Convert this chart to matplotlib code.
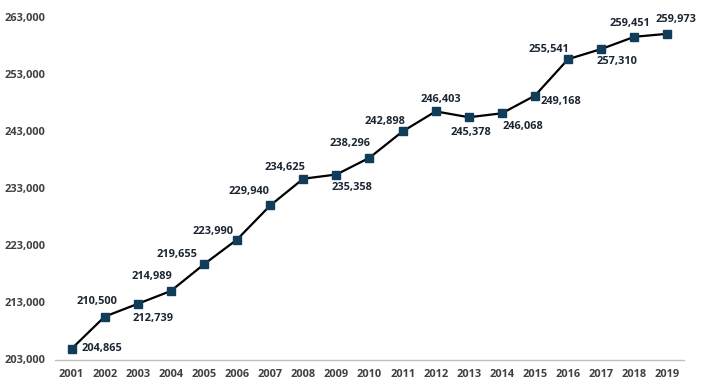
import numpy as np
import matplotlib
matplotlib.use('Agg')
import matplotlib.pyplot as plt

 # data
years = ['2001', '2002', '2003', '2004', '2005', '2006', '2007', '2008', '2009', '2010',
         '2011', '2012', '2013', '2014', '2015', '2016', '2017', '2018', '2019']
values = [204865, 210500, 212739, 214989, 219655, 223990, 229940, 234625, 235358, 238296,
          242898, 246403, 245378, 246068, 249168, 255541, 257310, 259451, 259973]
ytick_values = [203000, 213000, 223000, 233000, 243000, 253000, 263000]

 # label offsets (pixels) from each marker, x right / y up
label_dx = [10, -8, 15, -19, -27, -24, -21, -18, 16, -19, -18, 5, 2, 21, 26, -19, 16, -4, 9]
label_dy = [0, 15, -15, 14, 10, 8, 14, 11, -13, 14, 10, 12, -15, -13, -6, 10, -12, 13, 14]

plt.rcParams['font.family'] = ['Open Sans', 'DejaVu Sans']

fig = plt.figure(figsize=(7.01, 3.86), dpi=100)
ax = fig.add_axes([55 / 701, 26.5 / 386, 629 / 701, 343 / 386])

x = np.arange(len(years))
ax.plot(x, values, color='black', linewidth=1.6, zorder=2)
ax.plot(x, values, linestyle='none', marker='s', markersize=5.8,
        color='#123d5a', zorder=3)

for i in range(len(values)):
    txt = '{:,}'.format(values[i])
    if i == 0:
        ha = 'left'
    else:
        ha = 'center'
    ax.annotate(txt, (x[i], values[i]), xytext=(label_dx[i], label_dy[i]),
                textcoords='offset pixels', ha=ha, va='center',
                fontsize=7.9, fontweight='bold', color='#1c2633')

ax.set_xlim(-0.5, len(years) - 0.5)
ax.set_ylim(203000, 263000)
ax.set_xticks(x)
ax.set_xticklabels(years)
ax.set_yticks(ytick_values)
ax.set_yticklabels(['{:,}'.format(v) for v in ytick_values])

for lab in ax.get_xticklabels() + ax.get_yticklabels():
    lab.set_fontsize(7.9)
    lab.set_fontweight('bold')
    lab.set_color('#404040')

ax.tick_params(axis='both', length=0)
ax.tick_params(axis='x', pad=7)
ax.tick_params(axis='y', pad=7)
for side in ['top', 'right', 'left']:
    ax.spines[side].set_visible(False)
ax.spines['bottom'].set_color('#bfbfbf')
ax.spines['bottom'].set_linewidth(1.0)

fig.savefig('out.png', dpi=100)
